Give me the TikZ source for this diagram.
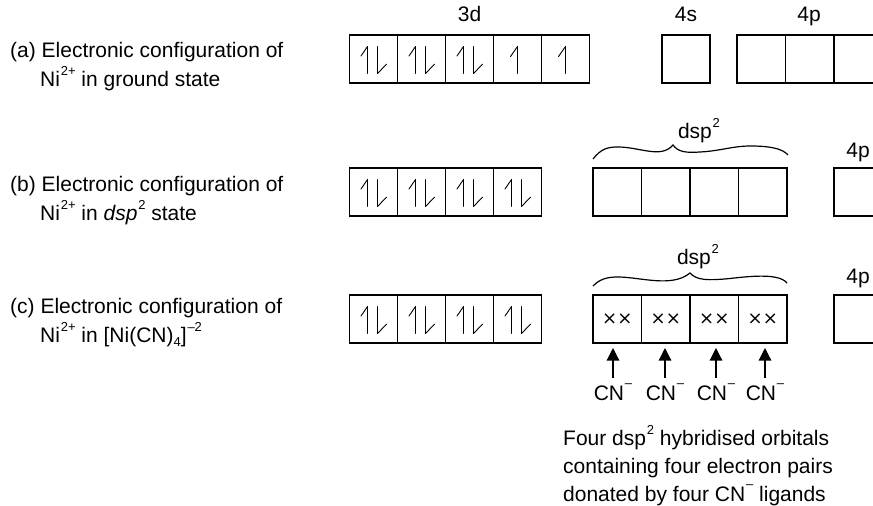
\documentclass[tikz,border=0pt]{standalone}
\usepackage{fontspec}
\setmainfont{Liberation Sans}
\newfontfamily\symfont{DejaVu Sans}
\usetikzlibrary{arrows.meta}
\newcommand{\sups}[2][10.5pt]{\kern0.8pt\raisebox{#1}{\fontsize{13}{13}\selectfont #2}}
\newcommand{\subs}[1]{\raisebox{-4pt}{\fontsize{13}{13}\selectfont #1}}
\begin{document}
\begin{tikzpicture}[x=1pt,y=-1pt,
  font=\fontsize{21}{25}\selectfont,
  orb/.style={draw,line width=1.3pt,minimum width=48pt,minimum height=48pt,inner sep=0pt,outer sep=0pt,anchor=north west},
  hyb/.style={orb,minimum width=48.5pt},
  txt/.style={inner sep=0pt,anchor=base west},
  lab/.style={inner sep=0pt,anchor=base},
  xx/.style={inner sep=0pt,font=\symfont\fontsize{18}{18}\selectfont},
  spin/.style={line width=0.9pt,line cap=round,line join=round},
  brace/.style={line width=1.2pt},
  cnarrow/.style={line width=1.2pt,-{Triangle[length=12.5pt,width=12.5pt]}},
  spinpair/.pic={\draw[spin] (-6,14.5) -- (-6,-12.5) -- (-12.5,-3);
                 \draw[spin] (4,-12.5) -- (4,14.5) -- (13,5.2);},
  spinup/.pic={\draw[spin] (0,14.5) -- (0,-12.5) -- (-7,-2.5);},
]
\useasboundingbox (0,0) rectangle (873,506);
\clip (0,0) rectangle (873,506);

% ---------- row (a)
\node[txt] (la1) at (10,57) {(a) Electronic configuration of};
\node[txt] (la2) at (40,86) {Ni\sups{2+} in ground state};
\node[lab] (l3d) at (469.5,21.5) {3d};
\node[lab] (l4s) at (686,21.5) {4s};
\node[lab] (l4p) at (809,21.5) {4p};
\foreach \i in {1,...,5}{
  \node[orb] (a\i) at ({349.5+48*(\i-1)},35) {};
}
\foreach \i in {1,2,3}{ \pic at (a\i.center) {spinpair}; }
\foreach \i in {4,5}{ \pic at (a\i.center) {spinup}; }
\node[orb] (s1) at (662,35) {};
\foreach \i in {1,2,3}{
  \node[hyb] (p\i) at ({737+48.5*(\i-1)},35) {};
}

% ---------- row (b)
\node[txt] (lb1) at (10,191) {(b) Electronic configuration of};
\node[txt] (lb2) at (40,220) {Ni\sups{2+} in \textit{dsp}\sups{2} state};
\foreach \i in {1,...,4}{
  \node[orb] (b\i) at ({349.5+48*(\i-1)},168) {};
  \pic at (b\i.center) {spinpair};
  \node[hyb] (h\i) at ({593+48.5*(\i-1)},168) {};
}
\node[hyb] (bp) at (834,168) {};
\node[lab] (bl4p) at (858,157) {4p};
\node[lab] (bdsp) at (699,138) {dsp\sups{2}};
\draw[brace] (593,159) .. controls (601,149) and (607,147) .. (618,147)
  .. controls (640,147) and (661,159) .. (673,145)
  .. controls (678,152) and (686,153) .. (700,152)
  .. controls (720,151) and (733,146) .. (750,146)
  .. controls (768,146) and (782,148) .. (788,155);

% ---------- row (c)
\node[txt] (lc1) at (10,313) {(c) Electronic configuration of};
\node[txt] (lc2) at (40,342) {Ni\sups{2+} in [Ni(CN)\subs{4}]\sups{--2}};
\foreach \i in {1,...,4}{
  \node[orb] (c\i) at ({349.5+48*(\i-1)},295) {};
  \pic at (c\i.center) {spinpair};
  \node[hyb] (k\i) at ({593+48.5*(\i-1)},295) {};
  \node[xx] (x\i) at (k\i.center) {××};
}
\node[hyb] (cp) at (834,295) {};
\node[lab] (cl4p) at (858,283) {4p};
\node[lab] (cdsp) at (698,264) {dsp\sups{2}};
\draw[brace] (593,286) .. controls (600,279) and (607,277) .. (618,277)
  .. controls (640,277) and (672,288) .. (690,273)
  .. controls (697,281) and (710,280) .. (725,279)
  .. controls (745,277) and (778,272) .. (787,283);

% ---------- ligands
\node[lab] (cn1) at (613,400) {CN\sups[13pt]{--}};
\node[lab] (cn2) at (665,400) {CN\sups[13pt]{--}};
\node[lab] (cn3) at (716,400) {CN\sups[13pt]{--}};
\node[lab] (cn4) at (765,400) {CN\sups[13pt]{--}};
\coordinate (t1) at (613,348);
\coordinate (t2) at (665,348);
\coordinate (t3) at (716,348);
\coordinate (t4) at (765,348);
\foreach \i in {1,...,4}{ \draw[cnarrow] ([yshift=5pt]cn\i.north) -- (t\i); }

\node[txt] (n1) at (563,445) {Four dsp\sups{2} hybridised orbitals};
\node[txt] (n2) at (563,473) {containing four electron pairs};
\node[txt] (n3) at (563,501) {donated by four CN\sups[13pt]{--} ligands};
\end{tikzpicture}
\end{document}
